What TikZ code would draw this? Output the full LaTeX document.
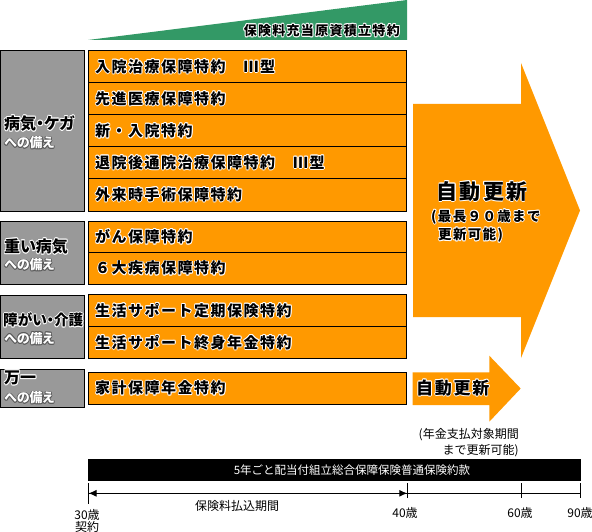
\documentclass[tikz,border=0pt]{standalone}
\usepackage{fontspec}
\usetikzlibrary{arrows.meta}
\newfontfamily\jp{Noto Sans CJK JP}
\newfontfamily\jpsp{Noto Sans CJK JP}[LetterSpace=10]
\newfontfamily\jpp{Noto Sans CJK JP}[RawFeature=+palt]
\definecolor{orng}{HTML}{FF9900}
\definecolor{grn}{HTML}{339966}
\definecolor{gry}{HTML}{999999}
\newcommand\halo[6]{%
  \foreach \hang in {0,45,...,315}{\node[#3,text=#5] at ([shift={(\hang:0.85pt)}]#2) {#6};}
  \node[#3,text=#4] (#1) at (#2) {#6};}
\tikzset{
  obox/.style={draw=black,line width=1pt,fill=orng},
  gbox/.style={draw=black,line width=1pt,fill=gry},
  rowtxt/.style={anchor=west,inner sep=0pt,font=\jpsp\bfseries\fontsize{15}{15}\selectfont},
  grntxt/.style={anchor=east,inner sep=0pt,font=\jpsp\bfseries\fontsize{13}{13}\selectfont},
  glab/.style={anchor=west,inner sep=0pt,font=\jpp\bfseries\fontsize{16}{16}\selectfont},
  glabn/.style={anchor=west,inner sep=0pt,font=\jpp\bfseries\fontsize{14.6}{14.6}\selectfont},
  gsub/.style={anchor=west,inner sep=0pt,font=\jpp\bfseries\fontsize{13}{13}\selectfont},
  bigtxt/.style={anchor=center,inner sep=0pt,font=\jpsp\bfseries\fontsize{21}{21}\selectfont},
  midtxt/.style={anchor=west,inner sep=0pt,font=\jpsp\bfseries\fontsize{13.5}{13.5}\selectfont},
  smalltxt/.style={anchor=west,inner sep=0pt,font=\jpsp\bfseries\fontsize{17}{17}\selectfont},
  thin/.style={inner sep=0pt,font=\jp\fontsize{12}{12}\selectfont},
  tick/.style={line width=1pt},
}
\begin{document}
\begin{tikzpicture}[x=1pt,y=-1pt]
\useasboundingbox (0,0) rectangle (592,532);
% green wedge
\fill[grn] (88,40) -- (407,40) -- (407,0) -- cycle;
\halo{gtitle}{400,30.5}{grntxt}{black}{white}{保険料充当原資積立特約}
% big arrow
\fill[orng] (413,104) -- (521,104) -- (521,63) -- (580,210.5) -- (521,358) -- (521,317) -- (413,317) -- cycle;
% small arrow
\fill[orng] (412.5,372.3) -- (489.3,372.3) -- (489.3,355.7) -- (520.7,388.5) -- (489.3,421.7) -- (489.3,405) -- (412.5,405) -- cycle;
% group 1
\draw[gbox] (0.5,51) rectangle (84,211);
\draw[obox] (88,51) rectangle (406.5,211);
\foreach \yy in {83,115,147,179} \draw[line width=1pt] (88,\yy) -- (406.5,\yy);
% group 2
\draw[gbox] (0.5,221) rectangle (84,284);
\draw[obox] (88,221) rectangle (406.5,284);
\draw[line width=1pt] (88,252.5) -- (406.5,252.5);
% group 3
\draw[gbox] (0.5,295) rectangle (84,358.5);
\draw[obox] (88,294.5) rectangle (406.5,358.5);
\draw[line width=1pt] (88,326.5) -- (406.5,326.5);
% group 4
\draw[gbox] (0.5,369) rectangle (84,407);
\draw[obox] (88,372.3) rectangle (406.5,404);
% gray labels
\halo{g1}{4,123.5}{glab}{black}{white}{病気・ケガ}
\halo{g1s}{4,143}{gsub}{white}{black!65}{への備え}
\halo{g2}{4,246.5}{glab}{black}{white}{重い病気}
\halo{g2s}{4,265}{gsub}{white}{black!65}{への備え}
\halo{g3}{3,320}{glabn}{black}{white}{障がい・介護}
\halo{g3s}{4,338.5}{gsub}{white}{black!65}{への備え}
\halo{g4}{4,378}{glab}{black}{white}{万一}
\halo{g4s}{4,398}{gsub}{white}{black!65}{への備え}
% row texts
\halo{r1}{95,66.7}{rowtxt}{black}{white}{入院治療保障特約　Ⅲ型}
\halo{r2}{95,98.7}{rowtxt}{black}{white}{先進医療保障特約}
\halo{r3}{95,130.7}{rowtxt}{black}{white}{新・入院特約}
\halo{r4}{95,162.5}{rowtxt}{black}{white}{退院後通院治療保障特約　Ⅲ型}
\halo{r5}{95,194.5}{rowtxt}{black}{white}{外来時手術保障特約}
\halo{r6}{95,236.7}{rowtxt}{black}{white}{がん保障特約}
\halo{r7}{95,268.3}{rowtxt}{black}{white}{６大疾病保障特約}
\halo{r8}{95,310.5}{rowtxt}{black}{white}{生活サポート定期保険特約}
\halo{r9}{95,342.5}{rowtxt}{black}{white}{生活サポート終身年金特約}
\halo{r10}{95,388}{rowtxt}{black}{white}{家計保障年金特約}
% arrow texts
\halo{auto1}{482,191.5}{bigtxt}{black}{white}{自動更新}
\halo{auto1a}{431,217}{midtxt}{black}{white}{(最長９０歳まで}
\halo{auto1b}{438,235}{midtxt}{black}{white}{更新可能)}
\halo{auto2}{416,388}{smalltxt}{black}{white}{自動更新}
% note
\node[thin,anchor=east] (n1) at (519,435) {(年金支払対象期間};
\node[thin,anchor=east] (n2) at (519,450.5) {まで更新可能)};
% black bar
\fill[black] (88,459.3) rectangle (581,480.7);
\node[inner sep=0pt,text=white,font=\jp\fontsize{11.5}{11.5}\selectfont] (bar) at (352,470) {5年ごと配当付組立総合保障保険普通保険約款};
% timeline
\coordinate (t30) at (88.5,493.3);
\coordinate (t40) at (407.3,493.3);
\coordinate (t60) at (521.7,493.3);
\coordinate (t90) at (580.7,493.3);
\draw[line width=1pt] (t30) -- (t90);
\draw[line width=1pt,{Latex[length=8pt,width=7pt]}-{Latex[length=8pt,width=7pt]}] (t30) -- (t40);
\draw[tick] (88.5,483) -- (88.5,504);
\draw[tick] (407.3,483) -- (407.3,498);
\draw[tick] (521.7,483) -- (521.7,498);
\draw[tick] (580.7,483) -- (580.7,498);
\node[thin] (pay) at (237,506) {保険料払込期間};
\node[thin] (a30) at (87,515) {30歳};
\node[thin] (c30) at (87,527) {契約};
\node[thin] (a40) at (405,513) {40歳};
\node[thin] (a60) at (520,513) {60歳};
\node[thin] (a90) at (580,513) {90歳};
\end{tikzpicture}
\end{document}
